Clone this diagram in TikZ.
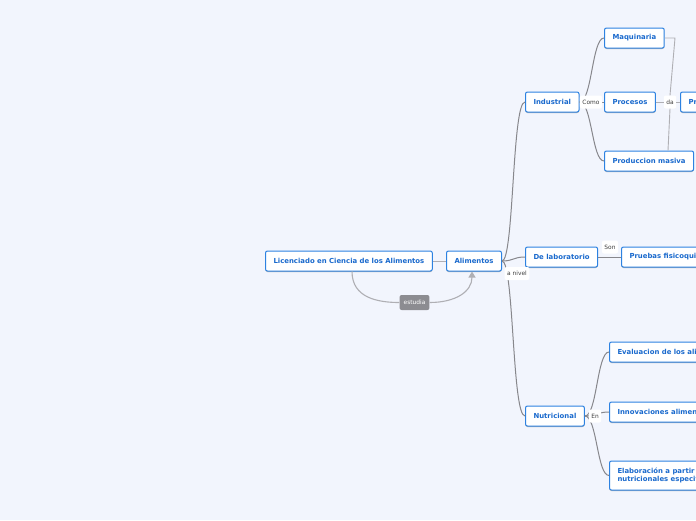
\documentclass[tikz,border=0pt]{standalone}
\usepackage{fontspec}
\setmainfont{DejaVu Sans}
\usetikzlibrary{arrows.meta, positioning, shadows}
\definecolor{Fondo}{RGB}{242,245,253}
\definecolor{AzulBorde}{RGB}{45,130,225}
\definecolor{AzulTexto}{RGB}{25,105,205}
\definecolor{GrisLinea}{RGB}{135,135,140}
\definecolor{GrisClaro}{RGB}{175,175,180}
\definecolor{GrisEtiq}{RGB}{140,140,145}
\tikzset{tema/.style={rectangle, rounded corners=2pt,
  draw=AzulBorde, fill=white, line width=1pt, text=AzulTexto,
  font=\fontsize{6.9}{8.6}\selectfont\bfseries, minimum height=20pt,
  inner xsep=8pt, inner ysep=2pt,
  drop shadow={shadow xshift=0pt, shadow yshift=-1pt, fill=black!30, opacity=1}}}
\tikzset{etiq/.style={fill=white, rounded corners=2pt, text=black!75,
  font=\fontsize{5.9}{7}\selectfont, inner xsep=2.5pt, inner ysep=1pt, minimum height=13pt}}
\tikzset{etiqg/.style={etiq, fill=GrisEtiq, text=white, inner xsep=4pt, minimum height=15pt}}
\tikzset{rama/.style={draw=GrisLinea, line width=1pt}}
\tikzset{ramac/.style={draw=GrisClaro, line width=0.9pt}}

\begin{document}
\begin{tikzpicture}[x=1pt, y=-1pt]
\useasboundingbox[fill=Fondo] (0,0) rectangle (696,520);
\clip (0,0) rectangle (696,520);
% nodos principales
\node[tema, anchor=west] (lic) at (265,261) {Licenciado en Ciencia de los Alimentos};
\node[tema, anchor=west] (ali) at (446,261) {Alimentos};
\node[tema, anchor=west] (ind) at (525,102) {Industrial};
\node[tema, anchor=west] (lab) at (525,257) {De laboratorio};
\node[tema, anchor=west] (nut) at (525,416) {Nutricional};
\node[tema, anchor=west] (maq) at (604,38) {Maquinaria};
\node[tema, anchor=west] (proc) at (604,102) {Procesos};
\node[tema, anchor=west] (pmas) at (604,161) {Produccion masiva};
\node[tema, anchor=west] (prod) at (680,102) {Productos};
\node[tema, anchor=west] (prue) at (621,257) {Pruebas fisicoquimicas};
\node[tema, anchor=west] (eval) at (609,352) {Evaluacion de los alimentos};
\node[tema, anchor=west] (innov) at (609,412) {Innovaciones alimentarias};
\node[tema, anchor=west, align=left, minimum height=29pt] (elab) at (609,475.5) {Elaboración a partir de requerimientos\\nutricionales especificos};
% conectores
\draw[ramac] (lic) -- (ali);
\draw[rama] (ali.east) .. controls (514,261) and (512,102) .. (ind.west);
\draw[rama] (ali.east) .. controls (514,261) and (513,257) .. (lab.west);
\draw[rama] (ali.east) .. controls (514,261) and (512,416) .. (nut.west);
\node[etiq] (anivel) at (517,273.5) {a nivel};
\draw[rama] (ind.east) .. controls (592,102) and (592,38) .. (maq.west);
\draw[rama] (ind.east) -- (proc.west);
\draw[rama] (ind.east) .. controls (592,102) and (592,161) .. (pmas.west);
\node[etiq] (como) at (591,102) {Como};
\node[etiq] (da) at (670,102) {da};
\draw[ramac] (maq.east) -- (675,38) -- (da.north);
\draw[ramac] (proc.east) -- (da.west);
\draw[ramac] (pmas.north -| 668,0) -- (da.south);
\draw[ramac] (da.east) -- (prod.west);
\draw[rama] (lab.east) -- (prue.west);
\node[etiq] (son) at (610,247) {Son};
\draw[rama] (nut.east) .. controls (597,416) and (597,352) .. (eval.west);
\draw[rama] (nut.east) .. controls (597,416) and (597,412) .. (innov.west);
\draw[rama] (nut.east) .. controls (597,416) and (597,475.5) .. (elab.west);
\node[etiq] (en) at (595,416) {En};
\node[etiqg] (estu) at (414.5,302.5) {estudia};
\draw[ramac, line width=1.1pt] (lic.south -| 352,0) .. controls (352,298) and (378,302.5) .. (estu.west);
\draw[ramac, line width=1.1pt, -{Triangle[length=6pt, width=7pt]}] (estu.east) .. controls (455,302.5) and (472,292) .. (ali.south -| 472,0);
\end{tikzpicture}
\end{document}
